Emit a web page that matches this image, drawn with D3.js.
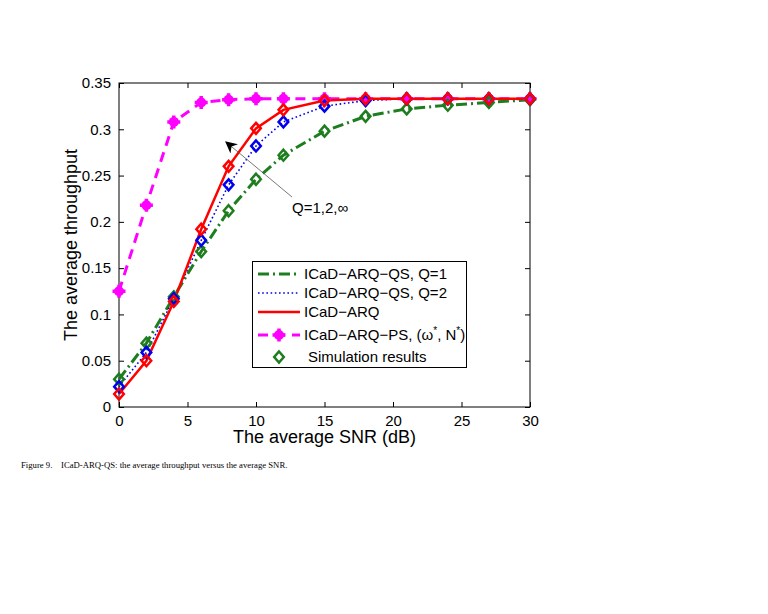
<!DOCTYPE html>
<html>
<head>
<meta charset="utf-8">
<script src="https://cdn.jsdelivr.net/npm/d3@7"></script>
<style>
  body { margin: 0; background: #fff; }
  svg { display: block; font-family: "Liberation Sans", Arial, sans-serif; }
</style>
</head>
<body>
<svg id="chart" width="768" height="614"></svg>
<script>
const snr = [0, 2, 4, 6, 8, 10, 12, 15, 18, 21, 24, 27, 30];
const qs1 = [0.030, 0.069, 0.119, 0.168, 0.212, 0.246, 0.272, 0.298, 0.314, 0.322, 0.326, 0.329, 0.332];
const qs2 = [0.022, 0.059, 0.117, 0.180, 0.240, 0.282, 0.308, 0.325, 0.331, 0.333, 0.333, 0.333, 0.333];
const arq = [0.014, 0.050, 0.114, 0.192, 0.260, 0.301, 0.321, 0.331, 0.333, 0.333, 0.333, 0.333, 0.333];
const ps = [0.125, 0.218, 0.308, 0.329, 0.332, 0.333, 0.333, 0.333, 0.333, 0.333, 0.333, 0.333, 0.333];
const xTicks = [0, 5, 10, 15, 20, 25, 30];
const yTicks = [0, 0.05, 0.1, 0.15, 0.2, 0.25, 0.3, 0.35];
const legendLabels = ["ICaD\u2212ARQ\u2212QS, Q=1", "ICaD\u2212ARQ\u2212QS, Q=2", "ICaD\u2212ARQ", "ICaD\u2212ARQ\u2212PS, (\u03c9", "Simulation results"];

const green = "#1e7d1e", blue = "#0000ee", red = "#ff0000", magenta = "#ff00ff";

const svg = d3.select("#chart");
const margin = {top: 83, right: 238, bottom: 207, left: 119};
const W = 768, H = 614;

const x = d3.scaleLinear().domain([0, 30]).range([margin.left, W - margin.right]);
const y = d3.scaleLinear().domain([0, 0.35]).range([H - margin.bottom, margin.top]);

// axes (ticks inward, box)
svg.append("g")
    .attr("transform", `translate(0,${y(0)})`)
    .call(d3.axisBottom(x).tickValues(xTicks).tickSize(-5).tickPadding(8).tickFormat(d3.format("d")))
    .call(g => g.select(".domain").remove())
    .call(g => g.selectAll("text").attr("font-size", 15).attr("fill", "#000").attr("font-family", "Liberation Sans, Arial"));

svg.append("g")
    .attr("transform", `translate(0,${y(0.35)})`)
    .call(d3.axisTop(x).tickValues(xTicks).tickSize(-5).tickFormat(""))
    .call(g => g.select(".domain").remove());

svg.append("g")
    .attr("transform", `translate(${x(0)},0)`)
    .call(d3.axisLeft(y).tickValues(yTicks).tickSize(-5).tickPadding(8).tickFormat(d => d === 0 ? "0" : d3.format(".2~f")(d)))
    .call(g => g.select(".domain").remove())
    .call(g => g.selectAll("text").attr("font-size", 15).attr("fill", "#000").attr("font-family", "Liberation Sans, Arial"));

svg.append("g")
    .attr("transform", `translate(${x(30)},0)`)
    .call(d3.axisRight(y).tickValues(yTicks).tickSize(-5).tickFormat(""))
    .call(g => g.select(".domain").remove());

svg.append("rect")
    .attr("x", x(0)).attr("y", y(0.35))
    .attr("width", x(30) - x(0)).attr("height", y(0) - y(0.35))
    .attr("fill", "none").attr("stroke", "#000").attr("stroke-width", 1);

// axis labels
svg.append("text")
    .attr("x", (x(0) + x(30)) / 2).attr("y", 443)
    .attr("text-anchor", "middle").attr("font-size", 18)
    .text("The average SNR (dB)");

svg.append("text")
    .attr("transform", `translate(77,${(y(0) + y(0.35)) / 2}) rotate(-90)`)
    .attr("text-anchor", "middle").attr("font-size", 18)
    .text("The average throughput");

const line = d3.line().x((d, i) => x(snr[i])).y(d => y(d));

const series = [
  {data: ps, color: magenta, width: 3, dash: "10,7"},
  {data: qs1, color: green, width: 3, dash: "11,4,2,4"},
  {data: qs2, color: blue, width: 1.6, dash: "1.6,2.6"},
  {data: arq, color: red, width: 2.5, dash: null}
];

series.forEach(s => {
  svg.append("path")
      .datum(s.data)
      .attr("fill", "none")
      .attr("stroke", s.color)
      .attr("stroke-width", s.width)
      .attr("stroke-dasharray", s.dash)
      .attr("d", line);
});

// magenta markers (filled circle with plus)
function psMarker(g, cx, cy) {
  g.append("circle").attr("cx", cx).attr("cy", cy).attr("r", 5).attr("fill", magenta);
  g.append("path")
      .attr("d", `M${cx - 6.5},${cy}H${cx + 6.5}M${cx},${cy - 6.5}V${cy + 6.5}`)
      .attr("stroke", magenta).attr("stroke-width", 3.5);
}
const gps = svg.append("g");
ps.forEach((v, i) => psMarker(gps, x(snr[i]), y(v)));

// simulation diamonds
function diamond(g, cx, cy, color) {
  g.append("path")
      .attr("d", `M${cx},${cy - 5.5}L${cx + 4.8},${cy}L${cx},${cy + 5.5}L${cx - 4.8},${cy}Z`)
      .attr("fill", "none").attr("stroke", color).attr("stroke-width", 2.5);
}
const gd = svg.append("g");
[[qs1, green], [qs2, blue], [arq, red]].forEach(([arr, c]) => {
  arr.forEach((v, i) => diamond(gd, x(snr[i]), y(v), c));
});

// annotation arrow
svg.append("defs").append("marker")
    .attr("id", "head").attr("viewBox", "0 0 10 10")
    .attr("refX", 9).attr("refY", 5)
    .attr("markerWidth", 12).attr("markerHeight", 12)
    .attr("markerUnits", "userSpaceOnUse")
    .attr("orient", "auto")
  .append("path").attr("d", "M0,0L10,5L0,10L3,5Z").attr("fill", "#000");

svg.append("line")
    .attr("x1", 292).attr("y1", 197).attr("x2", 226).attr("y2", 142)
    .attr("stroke", "#555").attr("stroke-width", 0.8)
    .attr("marker-end", "url(#head)");

svg.append("text")
    .attr("x", 292).attr("y", 213).attr("font-size", 15)
    .text("Q=1,2,\u221e");

// legend
const lg = svg.append("g");
lg.append("rect")
    .attr("x", 252.5).attr("y", 261.5).attr("width", 214).attr("height", 106)
    .attr("fill", "#fff").attr("stroke", "#000").attr("stroke-width", 1);

const rowY = [274, 293, 312, 335, 357];
const lx0 = 258, lx1 = 300, tx = 304;
[[green, 3, "11,4,2,4"], [blue, 1.6, "1.6,2.6"], [red, 2.5, null], [magenta, 3, "10,7"]].forEach(([c, w, dsh], i) => {
  lg.append("line")
      .attr("x1", lx0).attr("x2", lx1).attr("y1", rowY[i]).attr("y2", rowY[i])
      .attr("stroke", c).attr("stroke-width", w).attr("stroke-dasharray", dsh);
});
psMarker(lg, (lx0 + lx1) / 2, rowY[3]);
diamond(lg, (lx0 + lx1) / 2, rowY[4], green);

legendLabels.forEach((t, i) => {
  const txt = lg.append("text")
      .attr("x", i === 4 ? tx + 4 : tx).attr("y", rowY[i] + 5).attr("font-size", 15);
  if (i === 3) {
    txt.append("tspan").text(t);
    txt.append("tspan").attr("dy", -6).attr("font-size", 10).text("*");
    txt.append("tspan").attr("dy", 6).text(", N");
    txt.append("tspan").attr("dy", -6).attr("font-size", 10).text("*");
    txt.append("tspan").attr("dy", 6).text(")");
  } else {
    txt.text(t);
  }
});

// caption
svg.append("text")
    .attr("x", 21).attr("y", 468)
    .attr("font-family", "Liberation Serif, Times New Roman, serif")
    .attr("font-size", 8.7)
    .attr("xml:space", "preserve")
    .text("Figure 9.    ICaD-ARQ-QS: the average throughput versus the average SNR.");
</script>
</body>
</html>
